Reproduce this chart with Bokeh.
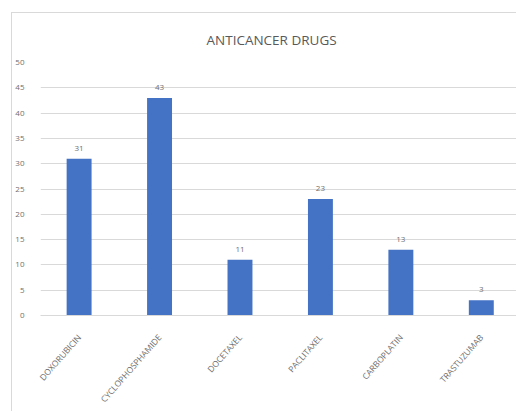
import numpy as np
from bokeh.plotting import figure
from bokeh.models import Range1d, FixedTicker, ColumnDataSource, Title
from bokeh.embed import file_html
from bokeh.resources import INLINE

# Number of patients per anticancer drug
drugs = ["DOXORUBICIN", "CYCLOPHOSPHAMIDE", "DOCETAXEL", "PACLITAXEL", "CARBOPLATIN", "TRASTUZUMAB"]
counts = [31, 43, 11, 23, 13, 3]
y_ticks = [0, 5, 10, 15, 20, 25, 30, 35, 40, 45, 50]

FONT = "Open Sans"
TEXT_GREY = "#6f6f6f"
BAR_BLUE = "#4472C4"
GRID_GREY = "#d9d9d9"

positions = np.arange(len(drugs)) + 0.5
src = ColumnDataSource(dict(x=positions, count=counts, label=[str(c) for c in counts]))

p = figure(
    width=505, height=399,
    x_range=Range1d(0.02, 5.95), y_range=Range1d(0, 50),
    output_backend="svg", toolbar_location=None,
    min_border_left=28, min_border_right=0, min_border_top=49, min_border_bottom=97,
    margin=(12, 0, 0, 11),
    styles={"border-top": "1px solid #d9d9d9", "border-left": "1px solid #d9d9d9"},
)
p.outline_line_color = None

title = Title(text="ANTICANCER DRUGS", align="left", text_font=FONT,
              text_font_size="13.5px", text_font_style="normal", text_color="#595959",
              standoff=28, offset=166)
p.add_layout(title, "above")

p.vbar(x="x", top="count", width=0.31, source=src, fill_color=BAR_BLUE, line_color=None)
p.text(x="x", y="count", text="label", source=src, text_align="center",
       text_baseline="bottom", y_offset=-8, text_font_size="8px",
       text_font={"value": FONT}, text_color=TEXT_GREY)

# y axis: gridlines only, no axis line or ticks
p.yaxis.ticker = FixedTicker(ticks=y_ticks)
p.yaxis.axis_line_color = None
p.yaxis.major_tick_line_color = None
p.yaxis.minor_tick_line_color = None
p.yaxis.major_label_text_font = FONT
p.yaxis.major_label_text_font_size = "8px"
p.yaxis.major_label_text_color = TEXT_GREY
p.yaxis.major_label_standoff = 10
p.ygrid.grid_line_color = GRID_GREY
p.ygrid.ticker = FixedTicker(ticks=y_ticks)

# x axis: drug names rotated
p.xaxis.ticker = FixedTicker(ticks=list(positions))
p.xaxis.major_label_overrides = {float(x): d for x, d in zip(positions, drugs)}
p.xaxis.major_label_orientation = 0.85
p.xaxis.axis_line_color = GRID_GREY
p.xaxis.major_tick_line_color = None
p.xaxis.minor_tick_line_color = None
p.xaxis.major_label_text_font = FONT
p.xaxis.major_label_text_font_size = "8.5px"
p.xaxis.major_label_text_color = TEXT_GREY
p.xaxis.major_label_standoff = 14
p.xgrid.grid_line_color = None

open("out.html", "w").write(file_html(p, INLINE))
